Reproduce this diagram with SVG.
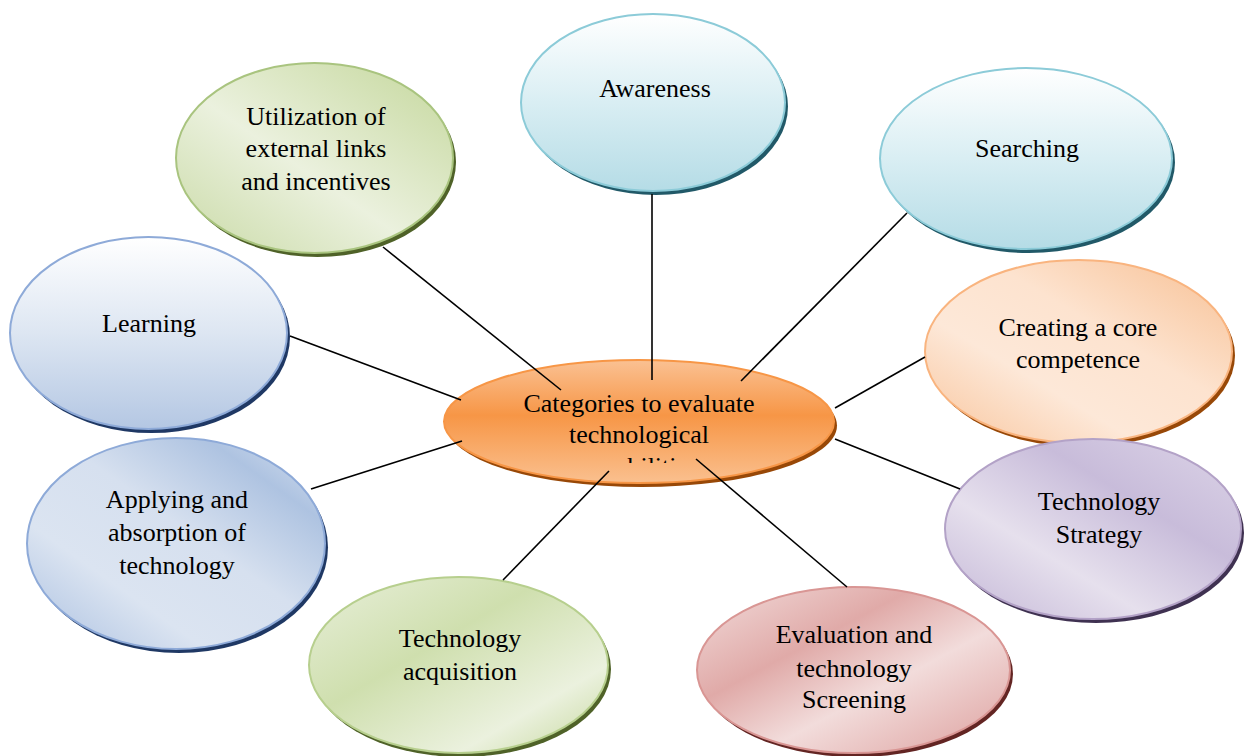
<svg xmlns="http://www.w3.org/2000/svg" width="1244" height="756" viewBox="0 0 1244 756">
<style>
  text { font-family: "Liberation Serif", "Times New Roman", serif; font-size: 26px; fill: #000; text-anchor: middle; }
  .conn line { stroke: #000; stroke-width: 1.6; }
</style>
<defs>
  <linearGradient id="gTeal" x1="0" y1="0" x2="0" y2="1">
    <stop offset="0" stop-color="#ffffff"/>
    <stop offset="0.5" stop-color="#d9eef3"/>
    <stop offset="1" stop-color="#b5dce6"/>
  </linearGradient>
  <linearGradient id="gBlueV" x1="0" y1="0" x2="0" y2="1">
    <stop offset="0" stop-color="#ffffff"/>
    <stop offset="0.5" stop-color="#dde6f2"/>
    <stop offset="1" stop-color="#b4c7e3"/>
  </linearGradient>
  <linearGradient id="gBlueD" x1="0" y1="1" x2="1" y2="0">
    <stop offset="0" stop-color="#a9bfe0"/>
    <stop offset="0.3" stop-color="#dbe4f1"/>
    <stop offset="0.55" stop-color="#d6e0ef"/>
    <stop offset="0.8" stop-color="#aec3e1"/>
    <stop offset="1" stop-color="#dbe4f1"/>
  </linearGradient>
  <linearGradient id="gGreen" x1="1" y1="0" x2="0" y2="1">
    <stop offset="0" stop-color="#c4d79b"/>
    <stop offset="0.55" stop-color="#ebf1de"/>
    <stop offset="1" stop-color="#c9daa6"/>
  </linearGradient>
  <linearGradient id="gGreen2" x1="0" y1="0" x2="1" y2="1">
    <stop offset="0" stop-color="#e8efda"/>
    <stop offset="0.4" stop-color="#cfdfae"/>
    <stop offset="0.75" stop-color="#ebf1de"/>
    <stop offset="1" stop-color="#c4d79b"/>
  </linearGradient>
  <linearGradient id="gPink" x1="0" y1="0" x2="1" y2="1">
    <stop offset="0" stop-color="#f2dcdb"/>
    <stop offset="0.35" stop-color="#e0aaa8"/>
    <stop offset="0.6" stop-color="#f2dcdb"/>
    <stop offset="1" stop-color="#dd9f9d"/>
  </linearGradient>
  <linearGradient id="gPurple" x1="0" y1="1" x2="1" y2="0">
    <stop offset="0" stop-color="#c2b5d6"/>
    <stop offset="0.35" stop-color="#e6e0ed"/>
    <stop offset="0.65" stop-color="#c8bcda"/>
    <stop offset="1" stop-color="#ddd5e8"/>
  </linearGradient>
  <linearGradient id="gPeach" x1="0" y1="1" x2="1" y2="0">
    <stop offset="0" stop-color="#f8c49b"/>
    <stop offset="0.35" stop-color="#fde8d8"/>
    <stop offset="0.6" stop-color="#fde3cf"/>
    <stop offset="1" stop-color="#f7bf92"/>
  </linearGradient>
  <linearGradient id="gOrange" x1="0" y1="0" x2="0" y2="1">
    <stop offset="0" stop-color="#fac193"/>
    <stop offset="0.45" stop-color="#f79646"/>
    <stop offset="1" stop-color="#fac08f"/>
  </linearGradient>
  <clipPath id="clipCut">
    <rect x="560" y="440" width="160" height="23"/>
  </clipPath>
</defs>

<g id="node-utilization">
  <ellipse cx="317.5" cy="162" rx="138.5" ry="95" fill="#4f6228"/>
  <ellipse cx="314.5" cy="158" rx="138.5" ry="95" fill="url(#gGreen)" stroke="#a9c47f" stroke-width="2"/>
  <text x="316" y="125">Utilization of</text>
  <text x="316" y="157">external links</text>
  <text x="316" y="190">and incentives</text>
</g>

<g id="node-awareness">
  <ellipse cx="656" cy="106.5" rx="132" ry="88.5" fill="#215968"/>
  <ellipse cx="653" cy="102.5" rx="132" ry="88.5" fill="url(#gTeal)" stroke="#8ccbd8" stroke-width="2"/>
  <text x="655" y="97">Awareness</text>
</g>

<g id="node-searching">
  <ellipse cx="1029" cy="162.5" rx="146" ry="90.5" fill="#215968"/>
  <ellipse cx="1026" cy="158.5" rx="146" ry="90.5" fill="url(#gTeal)" stroke="#8ccbd8" stroke-width="2"/>
  <text x="1027" y="157">Searching</text>
</g>

<g id="node-learning">
  <ellipse cx="151.5" cy="337" rx="138.5" ry="96" fill="#1f3864"/>
  <ellipse cx="148.5" cy="333" rx="138.5" ry="96" fill="url(#gBlueV)" stroke="#8eaad8" stroke-width="2"/>
  <text x="149" y="332">Learning</text>
</g>

<g id="node-creating">
  <ellipse cx="1081.5" cy="355.5" rx="153.5" ry="91.5" fill="#984807"/>
  <ellipse cx="1078.5" cy="351.5" rx="153.5" ry="91.5" fill="url(#gPeach)" stroke="#f9b47f" stroke-width="2"/>
  <text x="1078" y="336">Creating a core</text>
  <text x="1078" y="368">competence</text>
</g>

<g id="node-applying">
  <ellipse cx="179" cy="547.5" rx="149" ry="105.5" fill="#1f3864"/>
  <ellipse cx="176" cy="543.5" rx="149" ry="105.5" fill="url(#gBlueD)" stroke="#8eaad8" stroke-width="2"/>
  <text x="177" y="508">Applying and</text>
  <text x="177" y="541">absorption of</text>
  <text x="177" y="574">technology</text>
</g>

<g id="node-strategy">
  <ellipse cx="1096" cy="533" rx="148" ry="90" fill="#3f3151"/>
  <ellipse cx="1093" cy="529" rx="148" ry="90" fill="url(#gPurple)" stroke="#b3a2c7" stroke-width="2"/>
  <text x="1099" y="510">Technology</text>
  <text x="1099" y="543">Strategy</text>
</g>

<g id="node-acquisition">
  <ellipse cx="461.5" cy="669" rx="149.5" ry="88" fill="#4f6228"/>
  <ellipse cx="458.5" cy="665" rx="149.5" ry="88" fill="url(#gGreen2)" stroke="#b7cf8e" stroke-width="2"/>
  <text x="460" y="647">Technology</text>
  <text x="460" y="680">acquisition</text>
</g>

<g id="node-evaluation">
  <ellipse cx="856.5" cy="674" rx="156.5" ry="83" fill="#632523"/>
  <ellipse cx="853.5" cy="670" rx="156.5" ry="83" fill="url(#gPink)" stroke="#d99694" stroke-width="2"/>
  <text x="854" y="643">Evaluation and</text>
  <text x="854" y="677">technology</text>
  <text x="854" y="708">Screening</text>
</g>

<g id="node-center">
  <ellipse cx="642" cy="425.5" rx="195" ry="61.5" fill="#984807"/>
  <ellipse cx="639" cy="421.5" rx="195" ry="61.5" fill="url(#gOrange)" stroke="#f79646" stroke-width="2"/>
  <text x="639" y="412">Categories to evaluate</text>
  <text x="639" y="443">technological</text>
  <text x="639" y="475" clip-path="url(#clipCut)">capabilities</text>
</g>

<g id="connectors" class="conn">
  <line x1="383" y1="247" x2="561" y2="390"/>
  <line x1="652" y1="194" x2="652" y2="380"/>
  <line x1="907" y1="213" x2="741" y2="381"/>
  <line x1="290" y1="336" x2="461" y2="400"/>
  <line x1="925" y1="357" x2="835" y2="408"/>
  <line x1="311" y1="489" x2="462" y2="441"/>
  <line x1="835" y1="439" x2="960" y2="489"/>
  <line x1="503" y1="580" x2="609" y2="471"/>
  <line x1="696" y1="459" x2="847" y2="587"/>
</g>
</svg>
